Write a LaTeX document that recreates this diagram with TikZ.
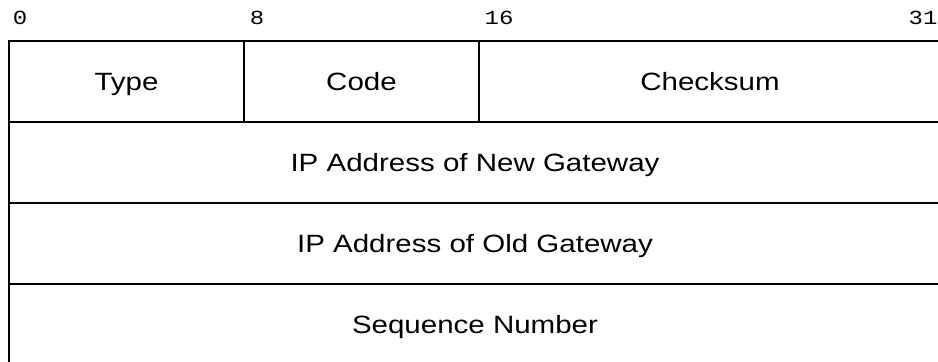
\documentclass[tikz,border=0pt]{standalone}
\usepackage{fontspec}
\setmainfont{Liberation Sans}
\newfontfamily\fieldfont[FakeStretch=1.18]{Liberation Sans}
\newfontfamily\bitfont[FakeStretch=1.2]{Liberation Mono}
\usepackage{tikz}

\begin{document}
\begin{tikzpicture}[
    x=0.5pt, y=-0.5pt,
    field/.style={rectangle, draw, line width=1.35pt, inner sep=0pt, minimum height=40.5pt,
        text height=9pt, text depth=0pt, font={\fieldfont\fontsize{12.5pt}{15pt}\selectfont}},
    bitnum/.style={anchor=base, inner sep=0pt, font={\bitfont\fontsize{10pt}{12pt}\selectfont}}
]
    \useasboundingbox (0,0) rectangle (938,362);

    % bit positions
    \node[bitnum] (b0) at (20,25) {0};
    \node[bitnum] (b8) at (257,25) {8};
    \node[bitnum] (b16) at (499,25) {16};
    \node[bitnum] (b31) at (923,25) {31};

    % first word
    \node[field, minimum width=117.5pt] (type) at (126.5,81.5) {Type};
    \node[field, minimum width=117.5pt] (code) at (361.5,81.5) {Code};
    \node[field, minimum width=231pt] (checksum) at (710,81.5) {Checksum};

    % remaining words
    \node[field, minimum width=466pt] (newgw) at (475,162.5) {IP Address of New Gateway};
    \node[field, minimum width=466pt] (oldgw) at (475,243.5) {IP Address of Old Gateway};
    \node[field, minimum width=466pt] (seqnum) at (475,324.5) {Sequence Number};
\end{tikzpicture}
\end{document}
